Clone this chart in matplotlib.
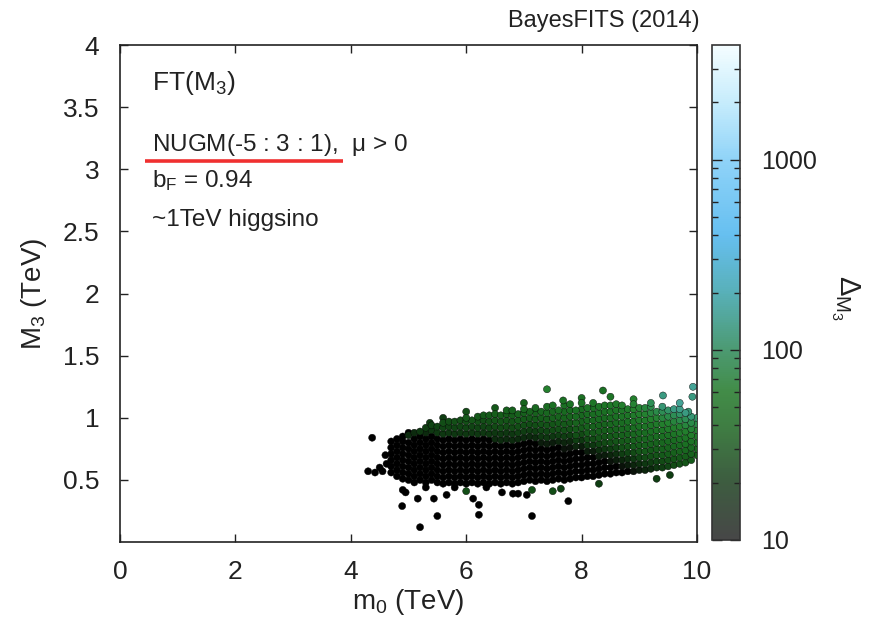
import numpy as np
import matplotlib
matplotlib.use("Agg")
import matplotlib.pyplot as plt
import matplotlib.cm as mcm
from matplotlib.colors import LinearSegmentedColormap, LogNorm
from matplotlib.ticker import FixedLocator, NullFormatter

plt.rcParams['font.family'] = ['Liberation Sans', 'DejaVu Sans']
plt.rcParams['mathtext.fontset'] = 'custom'
plt.rcParams['mathtext.rm'] = 'Liberation Sans'
plt.rcParams['mathtext.it'] = 'Liberation Sans'

# ---------------- data ----------------
# dense cloud, one m0 column per entry
col_m0 = [4.7, 4.8, 4.9, 5.0, 5.1, 5.2, 5.3, 5.4, 5.5, 5.6, 5.7, 5.8, 5.9,
          6.0, 6.1, 6.2, 6.3, 6.4, 6.5, 6.6, 6.7, 6.8, 6.9, 7.0, 7.1, 7.2,
          7.3, 7.4, 7.5, 7.6, 7.7, 7.8, 7.9, 8.0, 8.1, 8.2, 8.3, 8.4, 8.5,
          8.6, 8.7, 8.8, 8.9, 9.0, 9.1, 9.2, 9.3, 9.4, 9.5, 9.6, 9.7, 9.8,
          9.9, 10.0]
col_m3 = [
    [.56, .61, .66, .71, .76, .81],
    [.53, .58, .63, .68, .73, .78, .83],
    [.51, .56, .61, .66, .71, .76, .81, .85],
    [.50, .55, .60, .65, .70, .75, .80, .86],
    [.48, .53, .58, .63, .68, .73, .78, .83, .88],
    [.50, .55, .60, .65, .70, .75, .80, .85, .89],
    [.48, .53, .58, .63, .68, .73, .78, .83, .88, .92],
    [.50, .55, .60, .65, .70, .75, .80, .85, .90, .94],
    [.48, .53, .58, .63, .68, .73, .78, .83, .88, .93],
    [.47, .52, .57, .62, .67, .72, .77, .82, .87, .92, .96],
    [.48, .53, .58, .63, .68, .73, .78, .83, .88, .93, .97],
    [.47, .52, .57, .62, .67, .72, .77, .82, .87, .92, .97],
    [.48, .53, .58, .63, .68, .73, .78, .83, .88, .93, .98],
    [.47, .52, .57, .62, .67, .72, .77, .82, .87, .92, .97, 1.00],
    [.48, .53, .58, .63, .68, .73, .78, .83, .88, .93, .98],
    [.47, .52, .57, .62, .67, .72, .77, .82, .87, .92, .97, 1.01],
    [.48, .53, .58, .63, .68, .73, .78, .83, .88, .93, .98, 1.02],
    [.47, .52, .57, .62, .67, .72, .77, .82, .87, .92, .97, 1.02],
    [.48, .53, .58, .63, .68, .73, .78, .83, .88, .93, .98, 1.03],
    [.47, .52, .57, .62, .67, .72, .77, .82, .87, .92, .97, 1.02],
    [.48, .53, .58, .63, .68, .73, .78, .83, .88, .93, .98, 1.03, 1.06],
    [.47, .52, .57, .62, .67, .72, .77, .82, .87, .92, .97, 1.02, 1.06],
    [.48, .53, .58, .63, .68, .73, .78, .83, .88, .93, .98, 1.03],
    [.49, .54, .59, .64, .69, .74, .79, .84, .89, .94, .99, 1.04, 1.07],
    [.50, .55, .60, .65, .70, .75, .80, .85, .90, .95, 1.00, 1.05],
    [.49, .54, .59, .64, .69, .74, .79, .84, .89, .94, .99, 1.04, 1.08],
    [.50, .55, .60, .65, .70, .75, .80, .85, .90, .95, 1.00, 1.05],
    [.49, .54, .59, .64, .69, .74, .79, .84, .89, .94, .99, 1.04, 1.09],
    [.50, .55, .60, .65, .70, .75, .80, .85, .90, .95, 1.00, 1.05, 1.10],
    [.51, .56, .61, .66, .71, .76, .81, .86, .91, .96, 1.01, 1.06],
    [.50, .55, .60, .65, .70, .75, .80, .85, .90, .95, 1.00, 1.05, 1.10],
    [.51, .56, .61, .66, .71, .76, .81, .86, .91, .96, 1.01, 1.06, 1.11],
    [.52, .57, .62, .67, .72, .77, .82, .86, .91, .96, 1.01, 1.06],
    [.52, .57, .62, .67, .72, .77, .82, .87, .92, .97, 1.02, 1.07, 1.12],
    [.53, .58, .63, .68, .73, .78, .83, .88, .93, .98, 1.03, 1.08],
    [.53, .58, .63, .68, .73, .78, .83, .88, .93, .98, 1.03, 1.08, 1.12],
    [.54, .59, .64, .69, .74, .79, .84, .89, .94, .99, 1.04, 1.09],
    [.55, .60, .65, .70, .75, .80, .85, .90, .95, 1.00, 1.05, 1.10],
    [.55, .60, .65, .70, .75, .80, .85, .90, .95, 1.00, 1.05, 1.10],
    [.56, .61, .66, .71, .76, .81, .86, .91, .96, 1.01, 1.06, 1.11],
    [.56, .61, .66, .71, .76, .81, .86, .91, .96, 1.01, 1.06, 1.10],
    [.57, .62, .67, .72, .77, .82, .87, .92, .97, 1.02, 1.07],
    [.57, .62, .67, .72, .77, .82, .87, .92, .97, 1.02, 1.07, 1.11],
    [.58, .63, .68, .73, .78, .83, .88, .93, .98, 1.03, 1.08],
    [.58, .63, .68, .73, .78, .83, .88, .93, .98, 1.03, 1.08],
    [.59, .64, .69, .74, .79, .84, .89, .94, .99, 1.04, 1.09],
    [.60, .65, .70, .75, .80, .85, .90, .95, 1.00, 1.05],
    [.60, .65, .70, .75, .80, .85, .90, .95, 1.00, 1.05, 1.09],
    [.61, .66, .71, .76, .81, .86, .91, .96, 1.01, 1.06],
    [.62, .67, .72, .77, .82, .87, .92, .97, 1.02, 1.07],
    [.63, .68, .73, .78, .83, .88, .93, .98, 1.03, 1.07],
    [.64, .69, .74, .79, .84, .89, .94, .99, 1.04],
    [.66, .71, .76, .81, .86, .91, .96, 1.01],
    [.70, .75, .80, .85, .90, .95, 1.00],
]
col_delta = [
    [8, 8, 8, 8, 8, 8],
    [8, 8, 8, 8, 8, 8, 8],
    [8, 8, 8, 8, 8, 8, 8, 8],
    [8, 8, 8, 8, 8, 8, 8, 15],
    [8, 8, 8, 8, 8, 8, 8, 8, 15],
    [8, 8, 8, 8, 8, 8, 8, 8, 18],
    [8, 8, 8, 8, 8, 8, 8, 8, 15, 20],
    [8, 8, 8, 8, 8, 8, 8, 8, 18, 22],
    [8, 8, 8, 8, 8, 8, 8, 8, 18, 22],
    [8, 8, 8, 8, 8, 8, 8, 8, 18, 22, 25],
    [8, 8, 8, 8, 8, 8, 8, 8, 18, 22, 25],
    [8, 8, 8, 8, 8, 8, 8, 8, 18, 22, 26],
    [8, 8, 8, 8, 8, 8, 8, 8, 18, 22, 26],
    [8, 8, 8, 8, 8, 8, 8, 8, 18, 22, 26, 30],
    [8, 8, 8, 8, 8, 8, 8, 8, 18, 22, 28],
    [8, 8, 8, 8, 8, 8, 8, 8, 18, 22, 26, 30],
    [8, 8, 8, 8, 8, 8, 8, 8, 18, 22, 26, 30],
    [8, 8, 8, 8, 8, 8, 8, 8, 18, 22, 26, 30],
    [8, 8, 8, 8, 8, 8, 8, 15, 18, 24, 28, 32],
    [8, 8, 8, 8, 8, 8, 8, 15, 18, 24, 28, 32],
    [8, 8, 8, 8, 8, 8, 8, 15, 18, 24, 28, 32, 35],
    [8, 8, 8, 8, 8, 8, 8, 15, 18, 24, 28, 32, 35],
    [8, 8, 8, 8, 8, 8, 8, 15, 20, 25, 30, 34],
    [8, 8, 8, 8, 8, 8, 8, 15, 20, 25, 30, 34, 38],
    [8, 8, 8, 8, 8, 8, 8, 15, 20, 25, 30, 36],
    [8, 8, 8, 8, 8, 8, 8, 15, 20, 25, 30, 34, 40],
    [8, 8, 8, 8, 8, 8, 12, 18, 22, 27, 32, 38],
    [8, 8, 8, 8, 8, 8, 12, 18, 22, 27, 32, 38, 42],
    [8, 8, 8, 8, 8, 8, 12, 18, 24, 28, 34, 38, 44],
    [8, 8, 8, 8, 8, 8, 14, 20, 26, 30, 36, 42],
    [8, 8, 8, 8, 8, 10, 14, 20, 26, 30, 36, 40, 45],
    [8, 8, 8, 8, 8, 10, 14, 20, 26, 30, 36, 40, 45],
    [8, 8, 8, 8, 8, 14, 20, 26, 30, 36, 40, 45],
    [8, 8, 8, 8, 8, 12, 18, 24, 30, 34, 38, 42, 48],
    [8, 8, 8, 8, 12, 18, 24, 30, 34, 38, 42, 48],
    [8, 8, 8, 8, 12, 18, 24, 30, 34, 38, 42, 46, 50],
    [8, 8, 8, 12, 16, 22, 28, 32, 36, 40, 45, 50],
    [8, 8, 8, 12, 18, 24, 28, 32, 36, 40, 45, 50],
    [8, 8, 10, 14, 20, 26, 30, 34, 38, 42, 48, 52],
    [8, 8, 12, 16, 22, 28, 32, 36, 40, 45, 50, 55],
    [8, 10, 14, 20, 26, 30, 34, 38, 42, 48, 52, 58],
    [8, 12, 16, 22, 28, 32, 36, 40, 45, 50, 55],
    [10, 14, 18, 24, 30, 34, 38, 42, 48, 54, 60, 65],
    [12, 16, 22, 28, 32, 36, 40, 45, 52, 58, 65],
    [14, 18, 24, 30, 34, 38, 42, 48, 55, 62, 70],
    [15, 20, 26, 30, 35, 40, 45, 50, 60, 70, 80],
    [18, 22, 28, 32, 36, 42, 48, 55, 65, 80],
    [20, 24, 30, 34, 38, 44, 50, 58, 70, 90, 110],
    [22, 26, 32, 36, 40, 46, 54, 62, 80, 100],
    [24, 28, 34, 38, 42, 50, 58, 70, 90, 120],
    [26, 30, 36, 40, 46, 54, 62, 80, 100, 130],
    [28, 32, 38, 44, 50, 58, 70, 90, 120],
    [30, 35, 40, 48, 56, 66, 80, 110],
    [32, 38, 45, 52, 62, 75, 100],
]
# sparse points around the cloud
out_m0 = [4.30, 4.37, 4.42, 4.50, 4.55, 4.60, 4.62,
          4.89, 4.90, 4.95, 5.16, 5.20, 5.30, 5.44, 5.50, 5.66, 5.80, 6.00,
          6.12, 6.22, 6.22, 6.35, 6.62, 6.81, 6.90, 7.05, 7.14, 7.14, 7.50,
          7.64, 7.77, 8.30, 9.30, 9.53,
          5.00, 5.37, 5.60, 6.00, 6.50, 7.00, 7.40, 7.68, 8.00, 8.37, 8.50,
          8.90, 9.20, 9.41, 9.70, 9.93, 9.92, 9.85]
out_m3 = [0.57, 0.84, 0.56, 0.60, 0.57, 0.70, 0.63,
          0.29, 0.42, 0.40, 0.35, 0.12, 0.44, 0.35, 0.21, 0.38, 0.44, 0.41,
          0.35, 0.30, 0.22, 0.44, 0.40, 0.39, 0.39, 0.38, 0.21, 0.42, 0.41,
          0.43, 0.33, 0.47, 0.51, 0.54,
          0.88, 0.96, 1.00, 1.05, 1.08, 1.12, 1.23, 1.14, 1.16, 1.22, 1.17,
          1.15, 1.12, 1.18, 1.12, 1.25, 1.17, 1.05]
out_delta = [8, 8, 8, 8, 8, 8, 8,
             8, 8, 8, 8, 8, 8, 8, 8, 8, 8, 25,
             8, 8, 8, 8, 8, 8, 8, 8, 8, 25, 25,
             20, 8, 20, 20, 20,
             8, 20, 20, 25, 30, 35, 60, 45, 45, 45, 50,
             60, 90, 120, 150, 150, 120, 110]

# ---------------- assemble ----------------
m0, m3, delta = [], [], []
for x, ys, ds in zip(col_m0, col_m3, col_delta):
    for y, d in zip(ys, ds):
        m0.append(x); m3.append(y); delta.append(d)
m0 += out_m0; m3 += out_m3; delta += out_delta
m0 = np.array(m0); m3 = np.array(m3); delta = np.array(delta, float)
order = np.argsort(delta, kind='stable')
m0, m3, delta = m0[order], m3[order], delta[order]

# ---------------- colour scales ----------------
vmin, vmax = 10, 4000
def pos(v):
    return (np.log10(v) - 1) / (np.log10(vmax) - 1)
bar_stops = [(10, '#474747'), (20, '#3d5c40'), (40, '#3f7e43'), (60, '#428c48'),
             (100, '#4c9a72'), (200, '#58b0b8'), (400, '#66bff0'),
             (1000, '#8fd3f8'), (2000, '#c6ecfc'), (4000, '#f4fdff')]
pt_stops = [(10, '#0a120a'), (15, '#0c2a0e'), (20, '#0f3e12'), (30, '#155a1a'),
            (45, '#1b7024'), (60, '#24802e'), (90, '#2e8e56'), (120, '#3a9a80'),
            (200, '#52aeb4'), (400, '#66bff0'), (1000, '#8fd3f8'),
            (4000, '#f4fdff')]
bar_cmap = LinearSegmentedColormap.from_list('bar', [(pos(v), c) for v, c in bar_stops])
pt_cmap = LinearSegmentedColormap.from_list('pts', [(pos(v), c) for v, c in pt_stops])
pt_cmap.set_under('black')
norm = LogNorm(vmin=vmin, vmax=vmax, clip=False)

# ---------------- figure ----------------
fig = plt.figure(figsize=(8.74, 6.26), dpi=100)
ax = fig.add_axes([0.1373, 0.134, 0.6602, 0.794])
ink = '#222222'

ax.scatter(m0, m3, c=delta, cmap=pt_cmap, norm=norm, s=26,
           edgecolors='#050505', linewidths=0.3, zorder=3)

ax.set_xlim(0, 10)
ax.set_ylim(0, 4)
ax.set_xticks([0, 2, 4, 6, 8, 10])
ax.set_yticks([0.5, 1, 1.5, 2, 2.5, 3, 3.5, 4])
ax.set_yticklabels(['0.5', '1', '1.5', '2', '2.5', '3', '3.5', '4'])
ax.tick_params(direction='in', length=6, width=1, top=True, right=True,
               labelsize=19, colors=ink)
ax.tick_params(axis='x', pad=13)
ax.tick_params(axis='y', pad=15)
for sp in ax.spines.values():
    sp.set_linewidth(1.2)
    sp.set_color(ink)

ax.set_xlabel(r'm$_0$ (TeV)', fontsize=20, labelpad=2, color=ink)
ax.set_ylabel(r'M$_3$ (TeV)', fontsize=20, labelpad=10, color=ink)

ax.text(0.055, 0.9235, r'FT(M$_3$)', transform=ax.transAxes, fontsize=19,
        va='center', ha='left', color=ink)
ax.text(0.055, 0.799, r'NUGM(-5 : 3 : 1),  $\mathregular{\mu}$ > 0',
        transform=ax.transAxes, fontsize=17.5, va='center', ha='left',
        color=ink)
ax.text(0.055, 0.728, r'b$_F$ = 0.94', transform=ax.transAxes, fontsize=17.5,
        va='center', ha='left', color=ink)
ax.text(0.055, 0.648, '~1TeV higgsino', transform=ax.transAxes, fontsize=17.5,
        va='center', ha='left', color=ink)
ax.plot([0.0433, 0.386], [0.7666, 0.7666], transform=ax.transAxes,
        color='#f03030', lw=2.6, solid_capstyle='butt', zorder=5)

fig.text(0.801, 0.966, 'BayesFITS (2014)', ha='right', va='center',
         fontsize=17, color=ink)

# ---------------- colorbar ----------------
cax = fig.add_axes([0.8146, 0.1374, 0.0321, 0.7906])
cb = fig.colorbar(mcm.ScalarMappable(norm=norm, cmap=bar_cmap), cax=cax)
cb.outline.set_linewidth(1.2)
cb.outline.set_edgecolor('#333333')
cax.yaxis.set_major_locator(FixedLocator([10, 100, 1000]))
cax.yaxis.set_minor_locator(FixedLocator([20, 30, 40, 50, 60, 70, 80, 90,
                                          200, 300, 400, 500, 600, 700, 800,
                                          900, 2000, 3000]))
cax.yaxis.set_minor_formatter(NullFormatter())
cb.set_ticklabels(['10', '100', '1000'])
cax.tick_params(which='both', direction='in', left=True, right=True,
                colors=ink, labelsize=18, pad=15)
cax.tick_params(which='major', length=7, width=1)
cax.tick_params(which='minor', length=4, width=1)
fig.text(0.967, 0.524, r'$\Delta_{\mathregular{M_3}}$', rotation=270,
         fontsize=21, ha='center', va='center', color=ink)

fig.savefig('out.png', dpi=100)
